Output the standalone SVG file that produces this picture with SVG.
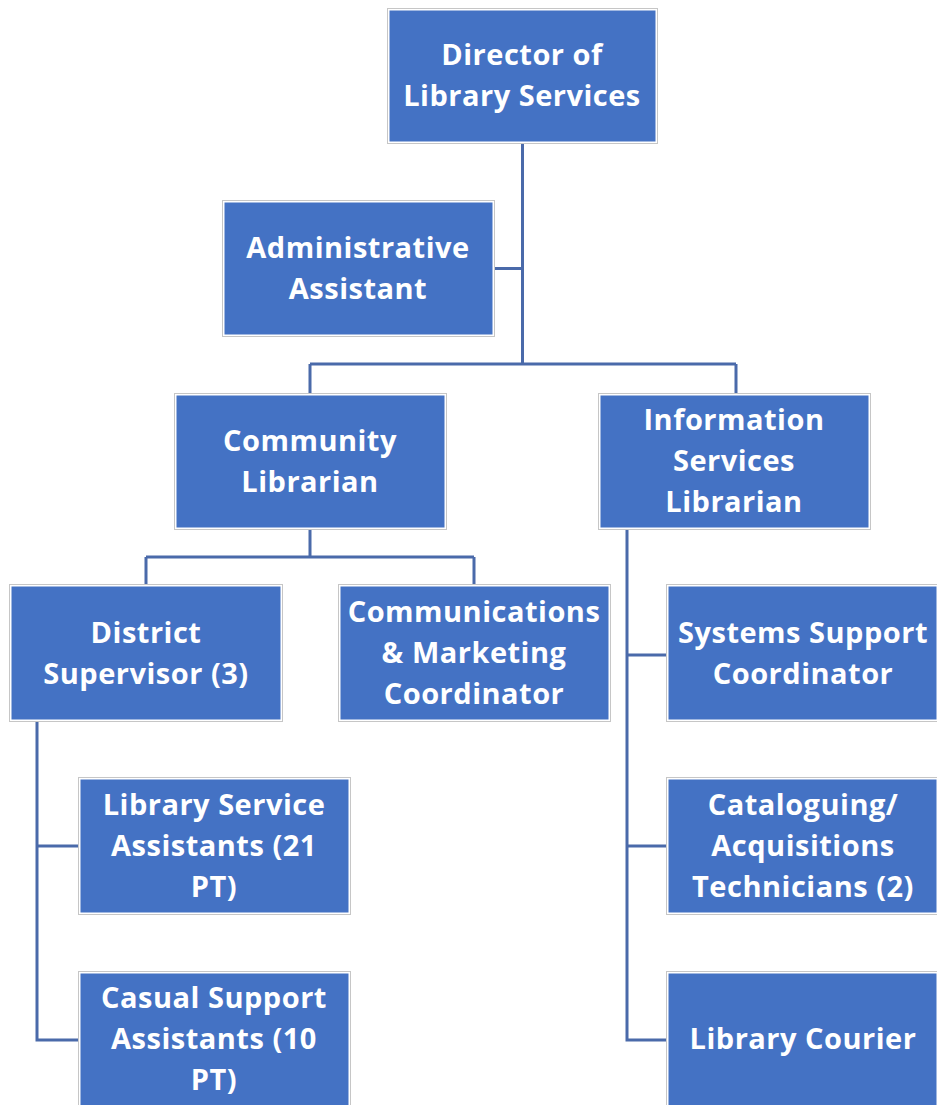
<svg xmlns="http://www.w3.org/2000/svg" width="937" height="1105" viewBox="0 0 937 1105">
  <style>
    .frame { fill: #ffffff; stroke: #c6c6c6; stroke-width: 1; }
    .box { fill: #4472c4; }
    .label { fill: #ffffff; font-family: "Open Sans", "Lato", "Liberation Sans", sans-serif; font-weight: 700; font-size: 29px; letter-spacing: 0.5px; text-anchor: middle; }
    .link { fill: none; stroke: #4a6aaa; stroke-width: 3; }
  </style>
  <rect width="937" height="1105" fill="#ffffff"/>

  <!-- reporting lines -->
  <g id="connectors">
    <path class="link" d="M522.5 143 V364 M495 268.5 H522.5 M310 364 H736 M310 364 V393 M736 364 V393"/>
    <path class="link" d="M310 529 V557 M146 557 H474 M146 557 V585 M474 557 V585"/>
    <path class="link" d="M37 721 V1040 H79 M37 846 H79"/>
    <path class="link" d="M627 529 V1040 H667 M627 655 H667 M627 846 H667"/>
  </g>

  <g id="director">
    <rect class="frame" x="387.5" y="8.5" width="270" height="135"/>
    <rect class="box" x="389.5" y="10.5" width="266" height="131"/>
    <text class="label" x="522" y="65">Director of</text>
    <text class="label" x="522" y="106">Library Services</text>
  </g>

  <g id="admin-assistant">
    <rect class="frame" x="222.5" y="200.5" width="272" height="136"/>
    <rect class="box" x="224.5" y="202.5" width="268" height="132"/>
    <text class="label" x="358" y="258">Administrative</text>
    <text class="label" x="358" y="299">Assistant</text>
  </g>

  <g id="community-librarian">
    <rect class="frame" x="174.5" y="393.5" width="272" height="136"/>
    <rect class="box" x="176.5" y="395.5" width="268" height="132"/>
    <text class="label" x="310" y="451">Community</text>
    <text class="label" x="310" y="492">Librarian</text>
  </g>

  <g id="information-services-librarian">
    <rect class="frame" x="598.5" y="393.5" width="272" height="136"/>
    <rect class="box" x="600.5" y="395.5" width="268" height="132"/>
    <text class="label" x="734" y="430">Information</text>
    <text class="label" x="734" y="471">Services</text>
    <text class="label" x="734" y="512">Librarian</text>
  </g>

  <g id="district-supervisor">
    <rect class="frame" x="9.5" y="584.5" width="273" height="137"/>
    <rect class="box" x="11.5" y="586.5" width="269" height="133"/>
    <text class="label" x="146" y="643">District</text>
    <text class="label" x="146" y="684">Supervisor (3)</text>
  </g>

  <g id="communications-marketing">
    <rect class="frame" x="338.5" y="584.5" width="272" height="137"/>
    <rect class="box" x="340.5" y="586.5" width="268" height="133"/>
    <text class="label" x="474" y="622">Communications</text>
    <text class="label" x="474" y="663">&amp; Marketing</text>
    <text class="label" x="474" y="704">Coordinator</text>
  </g>

  <g id="systems-support">
    <rect class="frame" x="666.5" y="584.5" width="272" height="137"/>
    <rect class="box" x="668.5" y="586.5" width="268" height="133"/>
    <text class="label" x="803" y="643">Systems Support</text>
    <text class="label" x="803" y="684">Coordinator</text>
  </g>

  <g id="library-service-assistants">
    <rect class="frame" x="78.5" y="777.5" width="272" height="137"/>
    <rect class="box" x="80.5" y="779.5" width="268" height="133"/>
    <text class="label" x="214" y="815">Library Service</text>
    <text class="label" x="214" y="856">Assistants (21</text>
    <text class="label" x="214" y="897">PT)</text>
  </g>

  <g id="cataloguing-technicians">
    <rect class="frame" x="666.5" y="777.5" width="272" height="137"/>
    <rect class="box" x="668.5" y="779.5" width="268" height="133"/>
    <text class="label" x="803" y="815">Cataloguing/</text>
    <text class="label" x="803" y="856">Acquisitions</text>
    <text class="label" x="803" y="897">Technicians (2)</text>
  </g>

  <g id="casual-support-assistants">
    <rect class="frame" x="78.5" y="971.5" width="272" height="137"/>
    <rect class="box" x="80.5" y="973.5" width="268" height="133"/>
    <text class="label" x="214" y="1008">Casual Support</text>
    <text class="label" x="214" y="1049">Assistants (10</text>
    <text class="label" x="214" y="1090">PT)</text>
  </g>

  <g id="library-courier">
    <rect class="frame" x="666.5" y="971.5" width="272" height="137"/>
    <rect class="box" x="668.5" y="973.5" width="268" height="133"/>
    <text class="label" x="803" y="1049">Library Courier</text>
  </g>
</svg>
